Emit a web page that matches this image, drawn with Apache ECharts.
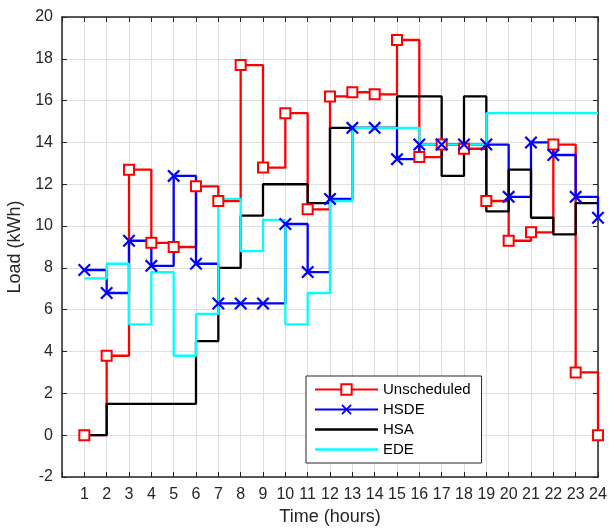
<!DOCTYPE html>
<html>
<head>
<meta charset="utf-8">
<script src="https://cdn.jsdelivr.net/npm/echarts@6/dist/echarts.min.js"></script>
<style>
html,body{margin:0;padding:0;background:#fff;}
#chart{width:609px;height:528px;}
</style>
</head>
<body>
<div id="chart"></div>
<script>
const hours = [1,2,3,4,5,6,7,8,9,10,11,12,13,14,15,16,17,18,19,20,21,22,23,24];
const unscheduled = [0,3.8,12.7,9.2,9.0,11.9,11.2,17.7,12.8,15.4,10.8,16.2,16.4,16.3,18.9,13.3,13.9,13.7,11.2,9.3,9.7,13.9,3.0,0];
const hsde = [7.9,6.8,9.3,8.1,12.4,8.2,6.3,6.3,6.3,10.1,7.8,11.3,14.7,14.7,13.2,13.9,13.9,13.9,13.9,11.4,14.0,13.4,11.4,10.4];
const hsa = [0,1.5,1.5,1.5,1.5,4.5,8.0,10.5,12.0,12.0,11.1,14.7,14.7,14.7,16.2,16.2,12.4,16.2,10.7,12.7,10.4,9.6,11.1,11.1];
const ede = [7.5,8.2,5.3,7.8,3.8,5.8,11.3,8.8,10.3,5.3,6.8,11.2,14.7,14.7,14.7,13.9,13.9,13.9,15.4,15.4,15.4,15.4,15.4,15.4];
const seriesNames = ['Unscheduled','HSDE','HSA','EDE'];
const yTicks = [-2,0,2,4,6,8,10,12,14,16,18,20];

const pairs = arr => hours.map((h,i)=>[h,arr[i]]);
const axisColor = '#262626';
const font = 'Liberation Sans, Arial, Helvetica, sans-serif';
const crossPath = 'path://M0,1.2 L1.2,0 L5,3.8 L8.8,0 L10,1.2 L6.2,5 L10,8.8 L8.8,10 L5,6.2 L1.2,10 L0,8.8 L3.8,5 Z';
const linePath = 'path://M0,0H63V2.3H0Z';
const LW = 2.3;

const chart = echarts.init(document.getElementById('chart'), null, {renderer:'canvas'});
const option = {
  animation:false,
  backgroundColor:'#fff',
  textStyle:{fontFamily:font},
  grid:{left:62,right:11,top:17,bottom:51,containLabel:false,outerBoundsMode:'none'},
  legend:{
    orient:'vertical',
    left:306, top:376,
    padding:[6,11,6,8],
    itemGap:5, itemWidth:63, itemHeight:13,
    borderColor:'#262626', borderWidth:1, backgroundColor:'#fff',
    textStyle:{fontSize:15,color:'#000',fontFamily:font},
    data:[
      {name:'Unscheduled'},
      {name:'HSDE'},
      {name:'HSA',icon:linePath},
      {name:'EDE',icon:linePath}
    ]
  },
  xAxis:[{
    type:'value', min:0, max:24, interval:1,
    name:'Time (hours)', nameLocation:'middle', nameGap:31,
    nameTextStyle:{fontSize:18,color:axisColor,fontFamily:font},
    axisLine:{show:true,onZero:false,lineStyle:{color:axisColor,width:1.5}},
    axisTick:{show:true,inside:true,length:5,lineStyle:{color:axisColor}},
    axisLabel:{fontSize:16,color:axisColor,margin:10,fontFamily:font,
      formatter:v=> v===0 ? '' : String(v)},
    splitLine:{show:true,lineStyle:{color:'#dfdfdf',width:1}}
  },{
    type:'value', min:0, max:24, interval:1, position:'top',
    axisLine:{show:true,onZero:false,lineStyle:{color:axisColor,width:1.5}},
    axisTick:{show:true,inside:true,length:5,lineStyle:{color:axisColor}},
    axisLabel:{show:false}, splitLine:{show:false}
  }],
  yAxis:[{
    type:'value', min:yTicks[0], max:yTicks[yTicks.length-1], interval:2,
    name:'Load (kWh)', nameLocation:'middle', nameGap:32,
    nameTextStyle:{fontSize:18,color:axisColor,fontFamily:font},
    axisLine:{show:true,onZero:false,lineStyle:{color:axisColor,width:1.5}},
    axisTick:{show:true,inside:true,length:5,lineStyle:{color:axisColor}},
    axisLabel:{fontSize:16,color:axisColor,margin:9,fontFamily:font},
    splitLine:{show:true,lineStyle:{color:'#dfdfdf',width:1}}
  },{
    type:'value', min:yTicks[0], max:yTicks[yTicks.length-1], interval:2, position:'right',
    axisLine:{show:true,onZero:false,lineStyle:{color:axisColor,width:1.5}},
    axisTick:{show:true,inside:true,length:5,lineStyle:{color:axisColor}},
    axisLabel:{show:false}, splitLine:{show:false}
  }],
  series:[
    {name:seriesNames[0], type:'line', step:'end', data:pairs(unscheduled),
     symbol:'emptyRect', symbolSize:10, showAllSymbol:true,
     lineStyle:{color:'#ff0000',width:LW},
     itemStyle:{color:'#ff0000',borderColor:'#ff0000',borderWidth:2.3}},
    {name:seriesNames[1], type:'line', step:'end', data:pairs(hsde),
     symbol:crossPath, symbolSize:13, showAllSymbol:true,
     lineStyle:{color:'#0000ff',width:LW},
     itemStyle:{color:'#0000ff'}},
    {name:seriesNames[2], type:'line', step:'end', data:pairs(hsa),
     symbol:'none',
     lineStyle:{color:'#000000',width:LW},
     itemStyle:{color:'#000000'}},
    {name:seriesNames[3], type:'line', step:'end', data:pairs(ede),
     symbol:'none',
     lineStyle:{color:'#00ffff',width:LW},
     itemStyle:{color:'#00ffff'}}
  ]
};
chart.setOption(option);
</script>
</body>
</html>
